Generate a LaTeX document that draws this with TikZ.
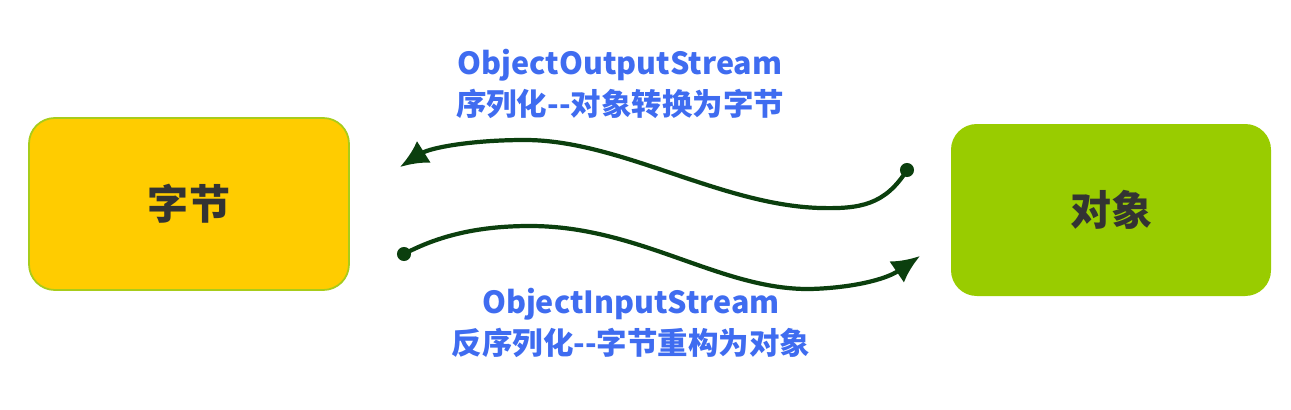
\documentclass[tikz,border=0pt]{standalone}
\usepackage{fontspec}
\newfontfamily\cjk{Noto Sans CJK SC}
\usetikzlibrary{arrows.meta}
\definecolor{boxyellow}{HTML}{FFCC00}
\definecolor{boxgreen}{HTML}{99CC00}
\definecolor{edgegreen}{HTML}{A8CC1A}
\definecolor{darkline}{HTML}{0B3F0E}
\definecolor{labelblue}{HTML}{3F6CF0}
\definecolor{boxtext}{HTML}{333333}
\tikzset{
  box/.style={rounded corners=22pt, minimum width=320*0.8536pt, minimum height=172*0.8536pt, inner sep=0pt,
     font=\cjk\bfseries\fontsize{35pt}{40pt}\selectfont, text=boxtext},
  flow/.style={draw=darkline, line width=3.6pt, -{Latex[length=24pt,width=22pt]}},
  lbl/.style={font=\cjk\bfseries\fontsize{26pt}{35pt}\selectfont, text=labelblue, align=center, inner sep=0pt},
  dotmark/.style={circle, fill=darkline, inner sep=0pt, minimum size=12pt}
}
\begin{document}
\begin{tikzpicture}[x=0.8536pt,y=-0.8536pt]
\useasboundingbox (0,0) rectangle (1291,410);
\node[box, fill=boxyellow, draw=edgegreen, line width=1.5pt] (bytes) at (189,204) {字节};
\node[box, fill=boxgreen] (obj) at (1111,210) {对象};
\node[dotmark] (d1) at (907,170) {};
\coordinate (t1) at (400,167);
\node[dotmark] (d2) at (404,254) {};
\coordinate (t2) at (920,256);
\draw[flow] (d1.center) .. controls (885,205) and (860,209) .. (820,208)
   .. controls (720,205) and (620,140) .. (525,140)
   .. controls (470,140) and (430,148) .. (t1);
\draw[flow] (d2.center) .. controls (440,235) and (480,226) .. (530,226)
   .. controls (640,226) and (720,290) .. (810,289)
   .. controls (850,288) and (885,280) .. (t2);
\node[lbl] (top) at (620,84) {ObjectOutputStream\\序列化--对象转换为字节};
\node[lbl] (bot) at (631,323) {ObjectInputStream\\反序列化--字节重构为对象};
\end{tikzpicture}
\end{document}
